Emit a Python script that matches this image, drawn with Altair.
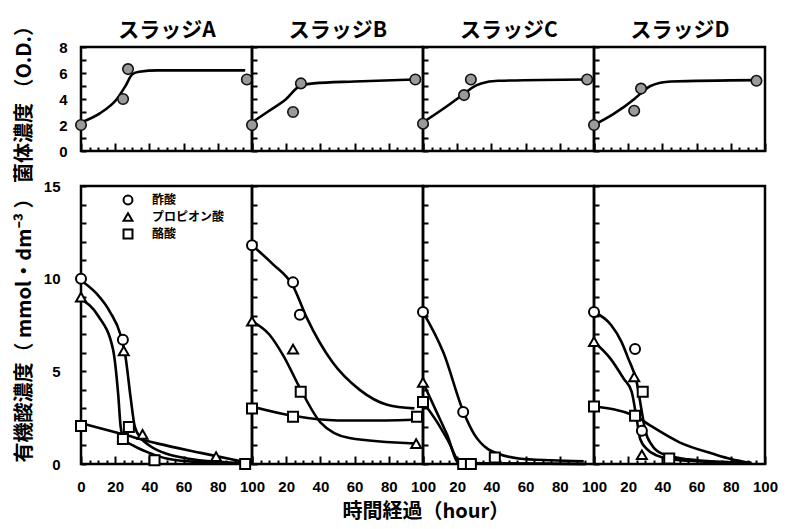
import altair as alt
import pandas as pd

PANELS = ["スラッジA", "スラッジB", "スラッジC", "スラッジD"]
ACIDS = ["酢酸", "プロピオン酸", "酪酸"]
SHAPES = ["circle", "triangle-up", "square"]

# ---------- top row: cell density (O.D.) ----------
od_x = [[0, 24.6, 27.5, 97], [0, 24, 28.6, 95.5], [0, 24, 28, 96], [0, 23.5, 27.5, 95]]
od_y = [[2.0, 4.0, 6.3, 5.5], [2.0, 3.0, 5.2, 5.5], [2.1, 4.3, 5.5, 5.5], [2.0, 3.1, 4.8, 5.4]]
odc_x = [[0, 11, 21, 26, 30, 34, 45, 96],
         [0, 9, 20, 28, 36, 60, 95],
         [0, 14.6, 24, 29, 34, 44, 96],
         [0, 11.5, 23.6, 28, 33, 45, 95]]
odc_y = [[2.2, 2.9, 4.0, 5.0, 5.9, 6.1, 6.2, 6.2],
         [2.2, 3.0, 4.0, 5.0, 5.2, 5.35, 5.5],
         [2.2, 3.5, 4.4, 4.9, 5.2, 5.4, 5.5],
         [2.0, 2.85, 4.0, 4.5, 5.0, 5.35, 5.45]]

# ---------- bottom row: organic acid concentration ----------
pt_x = [
    [[0, 24.5], [0, 25, 36, 79], [0, 24.5, 28, 43, 96]],
    [[0, 24, 28], [0, 24, 96], [0, 24, 28.5, 96.5]],
    [[0, 23.5], [0], [0, 23.5, 28, 42]],
    [[0, 24, 28], [0, 23.5, 28], [0, 24, 28.5, 44]],
]
pt_y = [
    [[10.0, 6.7], [9.0, 6.1, 1.6, 0.4], [2.05, 1.35, 2.0, 0.2, 0.0]],
    [[11.8, 9.8, 8.05], [7.7, 6.2, 1.1], [3.0, 2.55, 3.9, 2.55]],
    [[8.2, 2.8], [4.4], [3.35, 0.0, 0.0, 0.35]],
    [[8.2, 6.2, 1.8], [6.6, 4.7, 0.5], [3.1, 2.6, 3.9, 0.3]],
]
cv_x = [
    [[0, 9, 17, 23, 26, 29, 31.5, 35, 40, 50, 62, 80, 96],
     [0, 10, 18.7, 21.8, 23.2, 25, 30.4, 40, 50, 70, 96],
     [0, 24.5, 45, 70, 96]],
    [[0, 12, 24, 32, 47, 63, 79, 95],
     [0, 10, 18.3, 28.6, 40, 57, 96],
     [0, 24, 50, 78, 96]],
    [[0, 12, 23.5, 30, 38, 44, 56, 75, 94],
     [0, 8, 14, 21, 95],
     [0, 8, 15, 22, 95]],
    [[0, 10, 16, 20, 25, 28, 30, 34, 40, 55, 92],
     [0, 9.5, 17.4, 22, 25, 27, 31, 37, 50, 92],
     [0, 24, 33, 50, 70, 80, 92]],
]
cv_y = [
    [[9.9, 9.2, 8.2, 7.0, 5.8, 3.6, 2.0, 1.4, 1.0, 0.55, 0.3, 0.12, 0.05],
     [8.9, 8.0, 6.2, 3.7, 2.0, 1.35, 1.0, 0.6, 0.3, 0.1, 0.02],
     [2.2, 1.6, 1.1, 0.6, 0.1]],
    [[11.8, 10.8, 9.6, 7.9, 5.5, 4.0, 3.2, 3.0],
     [7.7, 7.0, 5.85, 4.0, 2.25, 1.4, 1.1],
     [3.1, 2.6, 2.35, 2.35, 2.4]],
    [[8.2, 6.0, 2.85, 1.6, 0.8, 0.55, 0.3, 0.2, 0.15],
     [4.4, 2.8, 1.6, 0.05, 0.0],
     [3.35, 2.3, 1.2, 0.05, 0.0]],
    [[8.2, 7.5, 6.6, 5.7, 4.4, 2.8, 1.8, 1.0, 0.55, 0.25, 0.05],
     [6.6, 5.7, 4.6, 3.9, 2.4, 1.35, 0.8, 0.45, 0.2, 0.05],
     [3.1, 2.6, 2.07, 1.17, 0.54, 0.27, 0.05]],
]

JP = "Noto Sans CJK JP"
NUM = "Liberation Sans"
W = 171
H_TOP = 104
H_BOT = 278


def x_axis(show_labels, hide_zero):
    kw = dict(values=list(range(0, 101, 5)), title=None, domain=False, grid=False,
              tickSize={"expr": "datum.value % 20 == 0 ? -8 : -4"},
              tickWidth=2, tickColor="black")
    if show_labels:
        cond = "datum.value % 20 == 0" + (" && datum.value > 0" if hide_zero else "")
        kw.update(labels=True, labelExpr=f"{cond} ? datum.label : ''",
                  labelPadding=23, labelFont=NUM, labelFontSize=15,
                  labelFontWeight="bold", labelColor="black",
                  labelFlush=False, labelOverlap=False)
    else:
        kw.update(labels=False)
    return alt.Axis(**kw)


def y_axis(vmax, step_label, show, title, label_pad, title_pad):
    kw = dict(values=list(range(0, vmax + 1)), domain=False, grid=False,
              tickSize={"expr": "-5"}, tickWidth=2, tickColor="black")
    if show:
        kw.update(labels=True,
                  labelExpr=f"datum.value % {step_label} == 0 ? datum.label : ''",
                  labelPadding=label_pad, labelFont=NUM, labelFontSize=15,
                  labelFontWeight="bold", labelColor="black", labelOverlap=False,
                  labelFlush=False,
                  title=title, titleFont=JP, titleFontSize=20, titleFontWeight="bold",
                  titleColor="black", titlePadding=title_pad)
    else:
        kw.update(labels=False, title=None)
    return alt.Axis(**kw)


def name_axis(name):
    return alt.Axis(orient="top", title=name, labels=False, ticks=False, domain=False,
                    grid=False, titleFont=JP, titleFontSize=21, titleFontWeight="bold",
                    titleColor="black", titlePadding=7)


top_charts = []
bot_charts = []
for i, name in enumerate(PANELS):
    # ---- top
    pts = pd.DataFrame({"x": od_x[i], "y": od_y[i]})
    crv = pd.DataFrame({"x": odc_x[i], "y": odc_y[i]})
    xs = alt.Scale(domain=[0, 100], nice=False)
    ye = alt.Y("y:Q", scale=alt.Scale(domain=[0, 8], nice=False),
               axis=y_axis(8, 2, i == 0, "菌体濃度 （O.D.）", 19, 24))
    line = alt.Chart(crv).mark_line(color="black", strokeWidth=2.6,
                                    interpolate="monotone").encode(
        x=alt.X("x:Q", scale=xs, axis=x_axis(False, i > 0)), y=ye)
    dots = alt.Chart(pts).mark_circle(size=110, color="#9a9a9a", stroke="#111",
                                      strokeWidth=1.6, opacity=1).encode(
        x=alt.X("x:Q", scale=xs, axis=name_axis(name)), y=ye)
    top_charts.append(
        alt.layer(line, dots).resolve_axis(x="independent").properties(
            width=W, height=H_TOP))

    # ---- bottom
    prow, crow = [], []
    for j, acid in enumerate(ACIDS):
        for x, y in zip(pt_x[i][j], pt_y[i][j]):
            prow.append({"acid": acid, "x": x, "y": y})
        for x, y in zip(cv_x[i][j], cv_y[i][j]):
            crow.append({"acid": acid, "x": x, "y": y})
    pdf = pd.DataFrame(prow)
    cdf = pd.DataFrame(crow)
    xe2 = alt.X("x:Q", scale=alt.Scale(domain=[0, 100], nice=False), axis=x_axis(True, i > 0))
    ye2 = alt.Y("y:Q", scale=alt.Scale(domain=[0, 15], nice=False),
                axis=y_axis(15, 5, i == 0, "有機酸濃度（ mmol・dm⁻³ ）", 26, 9))
    if i == 0:
        leg = alt.Legend(title=None, orient="none", legendX=41, legendY=8,
                         labelFont=JP, labelFontSize=12, labelFontWeight="bold",
                         labelColor="black", symbolSize=80, symbolStrokeWidth=2,
                         rowPadding=0, labelOffset=18)
    else:
        leg = None
    shape = alt.Shape("acid:N", scale=alt.Scale(domain=ACIDS, range=SHAPES), legend=leg)
    lines = alt.Chart(cdf).mark_line(color="black", strokeWidth=2.6,
                                     interpolate="monotone").encode(
        x=xe2, y=ye2, detail="acid:N")
    marks = alt.Chart(pdf).mark_point(size=100, filled=False, color="black", fill="white",
                                      strokeWidth=2, opacity=1).encode(
        x=xe2, y=ye2, shape=shape)
    bot_charts.append(alt.layer(lines, marks).properties(width=W, height=H_BOT))

grid = alt.concat(
    *(top_charts + bot_charts), columns=4, bounds="flush", align="each",
    spacing=alt.RowColnumber(row=35, column=0)
).resolve_legend(shape="independent").properties(
    title=alt.TitleParams("時間経過（hour）", orient="bottom", anchor="middle", font=JP,
                          fontSize=20, fontWeight="bold", color="black", offset=3, dx=30))

chart = grid.configure(
    background="white", padding={"left": 5, "top": 6, "right": 5, "bottom": 2}
).configure_view(stroke="black", strokeWidth=2.5)

chart.save("out.html", embed_options={"renderer": "svg", "actions": False})
